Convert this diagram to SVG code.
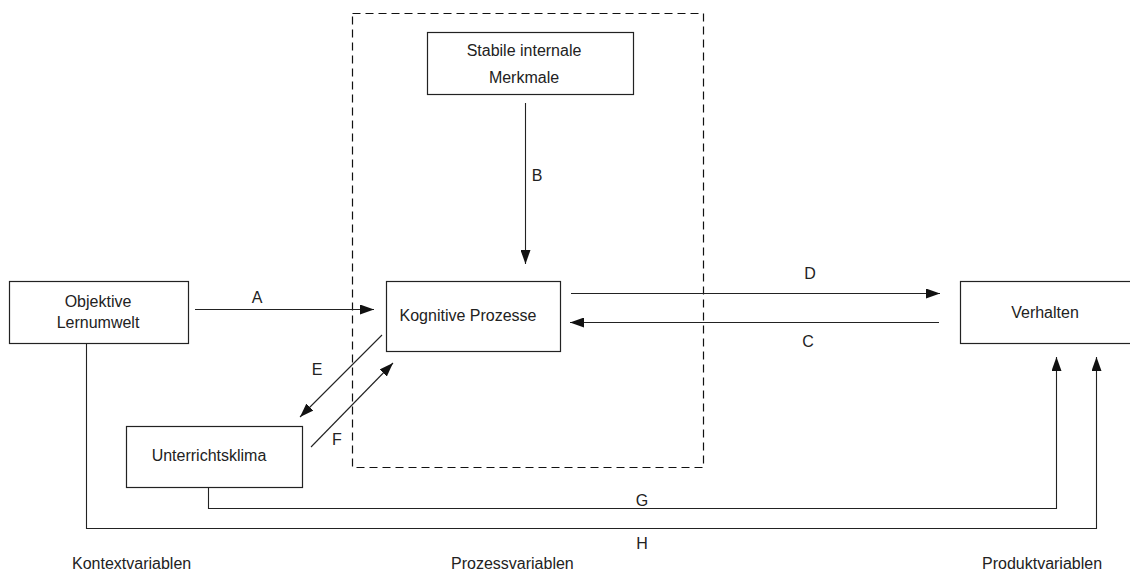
<svg xmlns="http://www.w3.org/2000/svg" width="1130" height="571" viewBox="0 0 1130 571">
  <style>
    .box { fill: #fff; stroke: #222; stroke-width: 1.2; }
    .frame { fill: none; stroke: #111; stroke-width: 1.2; stroke-dasharray: 8 5; }
    .edge { fill: none; stroke: #222; stroke-width: 1.1; }
    .arr { marker-end: url(#head); }
    text { font-family: "Liberation Sans", Arial, sans-serif; font-size: 16px; fill: #222; }
    .c { text-anchor: middle; }
  </style>
  <defs>
    <marker id="head" markerUnits="userSpaceOnUse" markerWidth="14" markerHeight="10" refX="14" refY="5" orient="auto">
      <path d="M0,0 L14,5 L0,10 Z" fill="#111"/>
    </marker>
  </defs>
  <rect width="1130" height="571" fill="#fff"/>

  <!-- process-variable frame -->
  <rect class="frame" x="352.5" y="13.5" width="351" height="454"/>

  <g id="connectors">
    <!-- A -->
    <line class="edge arr" x1="195" y1="309.5" x2="374" y2="309.5"/>
    <!-- B -->
    <line class="edge arr" x1="525.5" y1="103" x2="525.5" y2="264"/>
    <!-- D -->
    <line class="edge arr" x1="571" y1="293.5" x2="940" y2="293.5"/>
    <!-- C -->
    <line class="edge arr" x1="939" y1="322.5" x2="570" y2="322.5"/>
    <!-- E -->
    <line class="edge arr" x1="382" y1="335" x2="300" y2="417"/>
    <!-- F -->
    <line class="edge arr" x1="311" y1="447" x2="393" y2="363"/>
    <!-- G -->
    <polyline class="edge arr" points="208.5,487 208.5,508.5 1056.5,508.5 1056.5,357"/>
    <!-- H -->
    <polyline class="edge arr" points="86.5,343 86.5,528.5 1096.5,528.5 1096.5,357"/>
  </g>

  <g id="labels">
    <text class="c" x="257" y="303">A</text>
    <text class="c" x="537" y="181">B</text>
    <text class="c" x="808" y="347">C</text>
    <text class="c" x="810" y="279">D</text>
    <text class="c" x="317" y="375">E</text>
    <text class="c" x="337" y="445">F</text>
    <text class="c" x="642" y="506">G</text>
    <text class="c" x="642" y="549">H</text>
  </g>

  <g id="objektive-lernumwelt">
    <rect class="box" x="9.5" y="281.5" width="179" height="62"/>
    <text class="c" x="98" y="307">Objektive</text>
    <text class="c" x="98" y="328">Lernumwelt</text>
  </g>

  <g id="stabile-merkmale">
    <rect class="box" x="427.5" y="32.5" width="206" height="62"/>
    <text class="c" x="524" y="56">Stabile internale</text>
    <text class="c" x="524" y="83">Merkmale</text>
  </g>

  <g id="kognitive-prozesse">
    <rect class="box" x="386.5" y="281.5" width="174" height="70"/>
    <text class="c" x="468" y="321">Kognitive Prozesse</text>
  </g>

  <g id="unterrichtsklima">
    <rect class="box" x="126.5" y="426.5" width="176" height="61"/>
    <text class="c" x="209" y="461">Unterrichtsklima</text>
  </g>

  <g id="verhalten">
    <rect class="box" x="960.5" y="281.5" width="180" height="62"/>
    <text class="c" x="1045" y="318">Verhalten</text>
  </g>

  <g id="categories">
    <text x="72" y="569">Kontextvariablen</text>
    <text x="451" y="569">Prozessvariablen</text>
    <text x="982" y="569">Produktvariablen</text>
  </g>
</svg>
